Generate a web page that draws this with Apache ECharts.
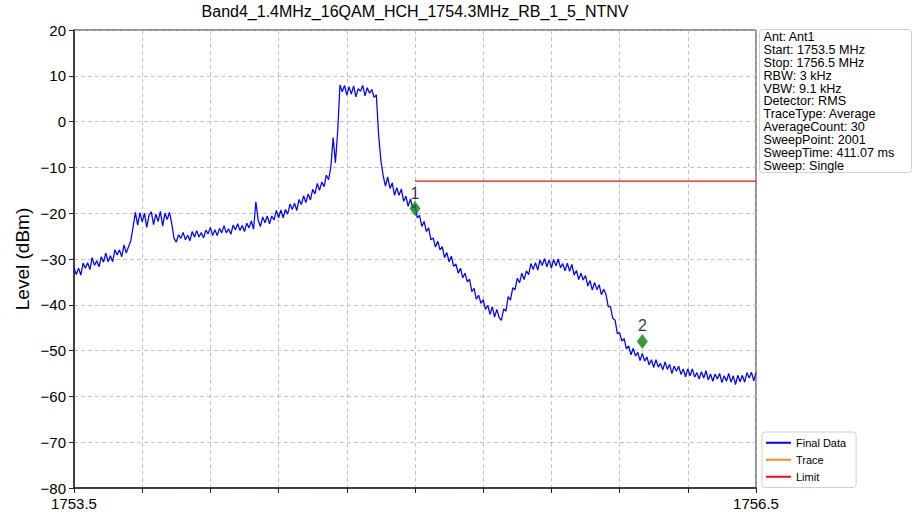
<!DOCTYPE html>
<html>
<head>
<meta charset="utf-8">
<script src="https://cdn.jsdelivr.net/npm/echarts@6/dist/echarts.min.js"></script>
<style>
html,body{margin:0;padding:0;background:#fff;}
#chart{width:912px;height:519px;}
</style>
</head>
<body>
<div id="chart"></div>
<script>
// ---- data ----
const chartTitle = 'Band4_1.4MHz_16QAM_HCH_1754.3MHz_RB_1_5_NTNV';
const startFreq = 1753.5;   // MHz
const stopFreq = 1756.5;    // MHz
const freqStep = 0.01;      // MHz between read samples

const levelsLowSkirt = [-31.9,-33.4,-32.0,-33.5,-30.9,-32.0,-30.8,-32.3,-29.7,-31.4,
  -30.4,-31.7,-29.5,-30.7,-28.7,-30.6,-29.3,-30.6,-28.0,-29.1,
  -28.0,-29.5,-26.9,-28.7,-27.3,-26.0];
const levelsSmallBlock = [-23.0,-19.8,-22.6,-19.9,-21.9,-20.0,-23.1,-20.4,-19.7,-22.5,
  -20.2,-21.8,-19.6,-22.8,-20.0,-21.4,-19.8,-22.3,-25.5];
const levelsFlat = [-26.3,-24.7,-25.5,-24.2,-25.8,-24.8,-26.0,-24.0,-25.2,-23.8,
  -25.2,-24.2,-25.4,-23.7,-24.5,-23.1,-24.9,-23.6,-24.9,-23.3,
  -24.3,-22.7,-24.3,-23.4,-24.6,-22.6,-23.6,-22.3,-23.8,-22.7,
  -24.0,-22.2,-23.2,-21.7,-23.5];
const levelsRise = [-17.5,
  -21.5,-22.9,-20.8,-22.1,-20.6,-22.3,-20.6,-21.5,-19.4,-21.0,
  -19.3,-21.0,-19.2,-20.2,-18.0,-19.2,-17.8,-19.4,-17.0,-18.1,
  -16.2,-17.7,-15.8,-17.1,-14.8,-15.8,-13.5,-15.0,-13.2,-14.2,
  -11.7,-12.7,-9.8,-3.5,-9.0,-2.0];
const levelsCarrier = [8.0,6.5,7.9,5.8,7.6,6.0,7.8,5.4,7.2,6.6,7.9,5.6,7.4,6.2,7.0,5.3,5.8];
const levelsFall = [-3.0,-8.5,
  -11.8,-14.1,-12.1,-14.6,-13.4,-16.1,-14.4,-16.1,-14.7,-17.4,
  -16.3,-18.5,-16.9,-18.9,-18.2,-21.0,-20.5,-22.9,-21.8,-24.0,
  -23.2,-25.8,-25.4,-27.4,-26.1,-28.0,-27.3,-29.7,-28.6,-30.6,
  -29.4,-31.6,-31.1,-33.1,-32.0,-34.1,-33.1,-35.0,-34.4,-37.1,
  -36.4,-38.8,-37.9,-39.7,-38.9,-41.0,-40.1,-42.1,-40.4,-42.7,
  -41.0,-42.8,-43.4,-40.9];
const levelsHump = [-41.4,-38.2,-39.0,-36.3,-36.7,-34.2,-35.2,-33.1,-34.5,-32.6,
  -33.4,-31.0,-32.3,-30.8,-32.4,-30.2,-31.4,-29.9,-31.7,-30.2,
  -32.0,-30.1,-31.5,-30.0,-31.9,-31.0,-32.6,-30.9,-32.7,-31.2,
  -33.5,-32.5,-34.5,-33.1,-34.6,-33.6,-35.9,-34.7,-36.8,-35.1,
  -36.7,-35.6,-37.8,-36.6];
const levelsTail = [-37.7,-40.4,-40.4,-43.0,-43.3,-46.3,-46.1,-47.9,-47.4,-49.6,
  -49.0,-50.9,-49.5,-51.2,-50.4,-52.2,-50.6,-52.3,-51.4,-53.1,
  -52.0,-53.7,-52.0,-53.6,-52.8,-54.2,-52.5,-54.1,-53.0,-55.0,
  -53.4,-54.5,-53.4,-55.2,-54.0,-55.7,-54.0,-55.5,-54.0,-55.8,
  -54.8,-56.2,-54.6,-56.0,-54.4,-56.4,-55.1,-56.7,-55.1,-56.2,
  -55.0,-57.0,-55.5,-56.7,-55.0,-56.9,-55.5,-57.4,-55.4,-56.8,
  -55.4,-56.9,-54.8,-56.0,-54.7,-56.6,-54.9];

const limitFreqs = [1755.0, 1756.5];
const limitLevels = [-13, -13];

const markerFreqs = [1755.0, 1756.0];
const markerLevels = [-19, -48];
const markerNames = ['1', '2'];

const seriesNames = ['Final Data', 'Trace', 'Limit'];
const yTicks = {min: -80, max: 20, interval: 10};
const xTicks = {interval: 0.3};

const infoLines = ['Ant: Ant1','Start: 1753.5 MHz','Stop: 1756.5 MHz','RBW: 3 kHz','VBW: 9.1 kHz',
  'Detector: RMS','TraceType: Average','AverageCount: 30','SweepPoint: 2001','SweepTime: 411.07 ms','Sweep: Single'];

// ---- build ----
const levels = [].concat(levelsLowSkirt, levelsSmallBlock, levelsFlat, levelsRise,
  levelsCarrier, levelsFall, levelsHump, levelsTail);
const finalData = levels.map((v, i) => [+(startFreq + i * freqStep).toFixed(3), v]);
const limitData = limitFreqs.map((f, i) => [f, limitLevels[i]]);
const markerData = markerFreqs.map((f, i) => ({name: markerNames[i], value: [f, markerLevels[i]]}));

const FONT = '"Liberation Sans", Arial, sans-serif';
const LINE_ICON = 'path://M0,0 L25,0 L25,2 L0,2 Z';
const chart = echarts.init(document.getElementById('chart'), null, {renderer: 'svg'});
chart.setOption({
  animation: false,
  backgroundColor: '#ffffff',
  textStyle: {fontFamily: FONT},
  title: {
    text: chartTitle, left: 415, top: 3, textAlign: 'center', padding: 0,
    textStyle: {fontFamily: FONT, fontSize: 16, fontWeight: 'normal', color: '#000'}
  },
  grid: {left: 74, right: 156, top: 30, bottom: 31, show: true, borderColor: '#222', borderWidth: 1, containLabel: false},
  legend: {
    data: seriesNames.map(n => ({name: n, icon: LINE_ICON})),
    orient: 'vertical', left: 762, top: 432,
    itemWidth: 25, itemHeight: 2, itemGap: 3.5, padding: [4, 10, 4, 4],
    backgroundColor: '#fff', borderColor: '#d0d0d0', borderWidth: 1, borderRadius: 3,
    textStyle: {fontFamily: FONT, fontSize: 11, color: '#000', lineHeight: 13.5, height: 13.5}
  },
  xAxis: {
    type: 'value', min: startFreq, max: stopFreq, interval: xTicks.interval,
    axisLine: {show: true, onZero: false, lineStyle: {color: '#222', width: 1.5}},
    axisTick: {show: true, length: 5, lineStyle: {color: '#222', width: 1}},
    axisLabel: {
      show: true, margin: 8, fontSize: 15, color: '#000', fontFamily: FONT,
      showMinLabel: true, showMaxLabel: true,
      formatter: v => (Math.abs(v - startFreq) < 1e-6 || Math.abs(v - stopFreq) < 1e-6) ? v.toFixed(1) : ''
    },
    splitLine: {show: true, lineStyle: {color: '#b4b4b4', type: [4, 3], width: 0.8}}
  },
  yAxis: {
    type: 'value', min: yTicks.min, max: yTicks.max, interval: yTicks.interval,
    name: 'Level (dBm)', nameLocation: 'middle', nameGap: 42, nameRotate: 90, nameMoveOverlap: false,
    nameTextStyle: {fontFamily: FONT, fontSize: 19, color: '#000'},
    axisLine: {show: true, onZero: false, lineStyle: {color: '#222', width: 1.5}},
    axisTick: {show: true, length: 5, lineStyle: {color: '#222', width: 1}},
    axisLabel: {
      margin: 8, fontSize: 15, color: '#000', fontFamily: FONT,
      formatter: v => v < 0 ? '\u2212' + Math.abs(v) : String(v)
    },
    splitLine: {show: true, lineStyle: {color: '#b4b4b4', type: [4, 3], width: 0.8}}
  },
  graphic: [{
    type: 'group', left: 759, top: 29,
    children: [
      {type: 'rect', shape: {x: 0, y: 0, width: 152, height: 143, r: 3},
       style: {fill: '#fff', stroke: '#d0d0d0', lineWidth: 1}},
      {type: 'text', x: 4, y: 1,
       style: {text: infoLines.join('\n'), font: '12.6px ' + FONT, fill: '#000', lineHeight: 12.9}}
    ]
  }],
  series: [
    {name: seriesNames[0], type: 'line', data: finalData, showSymbol: false, symbol: 'none',
     lineStyle: {color: '#0000ff', width: 1.25}, itemStyle: {color: '#0000ff'}, z: 3},
    {name: seriesNames[1], type: 'line', data: [], showSymbol: false, symbol: 'none',
     lineStyle: {color: '#ff8c1a', width: 1.5}, itemStyle: {color: '#ff8c1a'}},
    {name: seriesNames[2], type: 'line', data: limitData, showSymbol: false, symbol: 'none',
     lineStyle: {color: '#ee1111', width: 1.3}, itemStyle: {color: '#ee1111'}, z: 4},
    {name: 'Markers', type: 'scatter', data: markerData, symbol: 'diamond', symbolSize: [11, 15],
     itemStyle: {color: '#0a800a'}, z: 5,
     label: {show: true, position: 'top', distance: 0, formatter: p => p.name,
       fontFamily: FONT, fontSize: 16, color: '#000'}}
  ]
});
</script>
</body>
</html>
